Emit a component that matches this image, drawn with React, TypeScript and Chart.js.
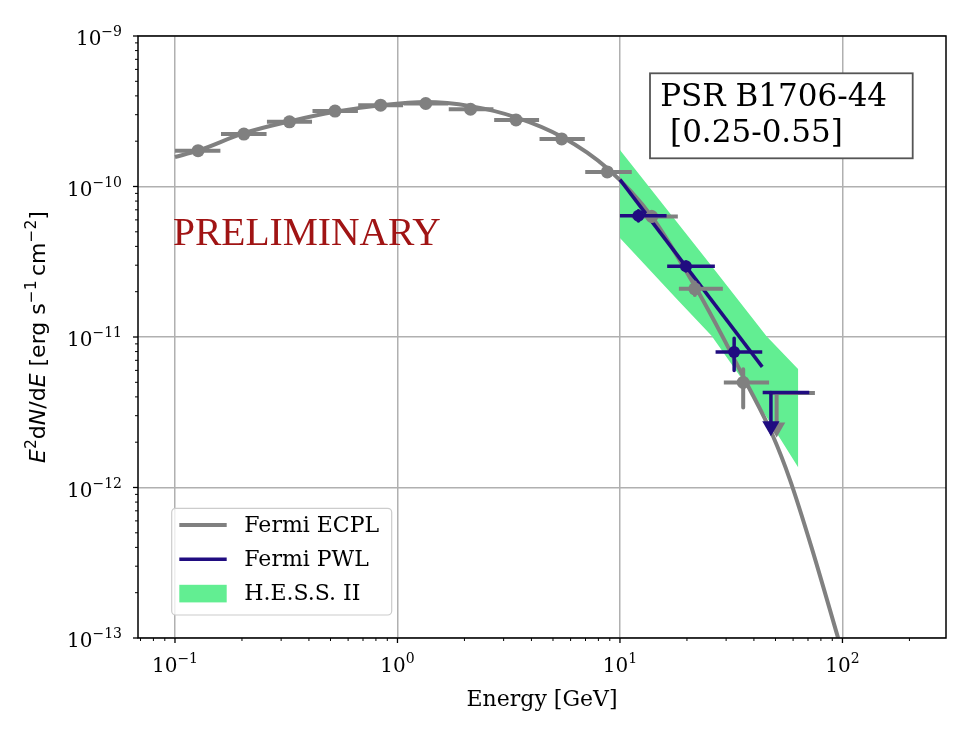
import React, { useEffect, useRef } from "react";
import { Chart, registerables } from "chart.js";

Chart.register(...registerables);

// ---------- axis ranges ----------
const X_MIN = 0.0682;
const X_MAX = 292;
const Y_MIN = 1e-13;
const Y_MAX = 1e-9;

// ---------- Fermi ECPL model curve ----------
const ecplE = [0.1, 0.127, 0.204, 0.327, 0.524, 0.84, 1.34, 2.13, 3.41, 5.47, 8.77, 13.9, 21.9, 28.1, 36.5, 48.7, 58.1, 72.9, 95.7];
const ecplFlux = [1.57e-10, 1.73e-10, 2.26e-10, 2.71e-10, 3.14e-10, 3.46e-10, 3.64e-10, 3.42e-10, 2.88e-10, 2.14e-10, 1.32e-10, 6.3e-11, 2.13e-11, 1.09e-11, 5.16e-12, 2.2e-12, 1.125e-12, 3.93e-13, 9.95e-14];

// ---------- Fermi PWL model line ----------
const pwlE = [10, 43.6];
const pwlFlux = [1.11e-10, 6.33e-12];

// ---------- H.E.S.S. II butterfly edges ----------
const hessUpperE = [10, 25.4, 45.6, 63.3];
const hessUpperFlux = [1.75e-10, 3.06e-11, 1.01e-11, 6.1e-12];
const hessLowerE = [10, 18.0, 25.8, 35.8, 47.2, 63.3];
const hessLowerFlux = [4.55e-11, 1.79e-11, 1.02e-11, 5.12e-12, 2.71e-12, 1.36e-12];

// ---------- Fermi ECPL binned points (grey) ----------
const ecplPtE = [0.127, 0.204, 0.327, 0.524, 0.84, 1.34, 2.13, 3.41, 5.47, 8.77, 13.9, 21.7, 35.8];
const ecplPtFlux = [1.73e-10, 2.23e-10, 2.69e-10, 3.17e-10, 3.47e-10, 3.56e-10, 3.26e-10, 2.77e-10, 2.07e-10, 1.25e-10, 6.32e-11, 2.09e-11, 4.99e-12];
const ecplPtELo = [0.1, 0.161, 0.259, 0.415, 0.666, 1.07, 1.7, 2.72, 4.35, 6.98, 11.3, 18.4, 29.3];
const ecplPtEHi = [0.16, 0.258, 0.413, 0.664, 1.06, 1.69, 2.7, 4.33, 6.95, 11.3, 18.2, 29.0, 46.8];
const ecplPtFluxLo = [1.68e-10, 2.17e-10, 2.62e-10, 3.09e-10, 3.39e-10, 3.48e-10, 3.17e-10, 2.69e-10, 1.99e-10, 1.19e-10, 5.9e-11, 1.9e-11, 3.4e-12];
const ecplPtFluxHi = [1.78e-10, 2.29e-10, 2.76e-10, 3.25e-10, 3.55e-10, 3.64e-10, 3.35e-10, 2.85e-10, 2.15e-10, 1.31e-10, 6.8e-11, 2.3e-11, 6.1e-12];
const ecplUlE = [50.6];
const ecplUlFlux = [4.24e-12];
const ecplUlELo = [46.8];
const ecplUlEHi = [75.2];
const ecplUlArrow = [2.5e-12];

// ---------- Fermi PWL binned points (dark blue) ----------
const pwlPtE = [12.1, 19.8, 32.6];
const pwlPtFlux = [6.4e-11, 2.95e-11, 7.96e-12];
const pwlPtELo = [10.0, 16.3, 26.9];
const pwlPtEHi = [16.2, 26.7, 43.6];
const pwlPtFluxLo = [5.9e-11, 2.75e-11, 6.0e-12];
const pwlPtFluxHi = [6.9e-11, 3.15e-11, 9.8e-12];
const pwlUlE = [47.7];
const pwlUlFlux = [4.28e-12];
const pwlUlELo = [43.8];
const pwlUlEHi = [70.9];
const pwlUlArrow = [2.55e-12];

// ---------- annotations ----------
const prelimE = 0.1;
const prelimFlux = 4.1e-11;
const sourceLines = ["PSR B1706-44", " [0.25-0.55]"];
const xAxisTitle = "Energy [GeV]";

// ---------- colours / fonts ----------
const GREY = "#808080";
const BLUE = "#200c80";
const GREEN = "#62ee92";
const RED = "#a01414";
const SERIF = "'DejaVu Serif', serif";
const SANS = "'DejaVu Sans', sans-serif";

// ---------- helpers ----------
const pts = (xs: number[], ys: number[]) => xs.map((x, i) => ({ x, y: ys[i] }));
const hSegs = (lo: number[], hi: number[], ys: number[]) => {
  const out: any[] = [];
  lo.forEach((l, i) => {
    out.push({ x: l, y: ys[i] }, { x: hi[i], y: ys[i] }, { x: hi[i], y: null });
  });
  return out;
};
const vSegs = (xs: number[], lo: number[], hi: number[]) => {
  const out: any[] = [];
  xs.forEach((x, i) => {
    out.push({ x, y: hi[i] }, { x, y: lo[i] }, { x, y: null });
  });
  return out;
};
const isDecade = (v: number) => Math.abs(Math.log10(v) - Math.round(Math.log10(v))) < 1e-6;
const expOf = (v: number) => String(Math.round(Math.log10(v))).replace("-", "\u2212");
function logTicks(min: number, max: number) {
  const out: { value: number }[] = [];
  const e0 = Math.floor(Math.log10(min));
  const e1 = Math.ceil(Math.log10(max));
  for (let e = e0; e <= e1; e++) {
    for (let m = 1; m <= 9; m++) {
      const v = parseFloat((m * Math.pow(10, e)).toPrecision(12));
      if (v >= min * (1 - 1e-9) && v <= max * (1 + 1e-9)) out.push({ value: v });
    }
  }
  return out;
}

type Run = { t: string; font: string; dy: number };
function runsWidth(ctx: CanvasRenderingContext2D, runs: Run[]) {
  let w = 0;
  for (const r of runs) {
    ctx.font = r.font;
    w += ctx.measureText(r.t).width;
  }
  return w;
}
function drawRuns(ctx: CanvasRenderingContext2D, runs: Run[], x: number, y: number) {
  let cx = x;
  for (const r of runs) {
    ctx.font = r.font;
    ctx.fillText(r.t, cx, y + r.dy);
    cx += ctx.measureText(r.t).width;
  }
}
const powRuns = (v: number): Run[] => [
  { t: "10", font: `20px ${SERIF}`, dy: 0 },
  { t: expOf(v), font: `14px ${SERIF}`, dy: -9 },
];

// ---------- plugins ----------
const axisDecor = {
  id: "axisDecor",
  afterDatasetsDraw(chart: any) {
    const { ctx, chartArea: ca, scales } = chart;
    const xs = scales.x;
    const ys = scales.y;
    ctx.save();
    ctx.strokeStyle = "#000";
    ctx.lineCap = "butt";
    for (const t of xs.ticks) {
      const px = xs.getPixelForValue(t.value);
      const maj = isDecade(t.value);
      ctx.lineWidth = maj ? 1.3 : 1;
      ctx.beginPath();
      ctx.moveTo(px, ca.bottom);
      ctx.lineTo(px, ca.bottom + (maj ? 5 : 3));
      ctx.stroke();
    }
    for (const t of ys.ticks) {
      const py = ys.getPixelForValue(t.value);
      const maj = isDecade(t.value);
      ctx.lineWidth = maj ? 1.3 : 1;
      ctx.beginPath();
      ctx.moveTo(ca.left, py);
      ctx.lineTo(ca.left - (maj ? 5 : 3), py);
      ctx.stroke();
    }
    ctx.lineWidth = 1.5;
    ctx.strokeRect(ca.left, ca.top, ca.right - ca.left, ca.bottom - ca.top);

    // tick labels (10^n with real superscripts)
    ctx.fillStyle = "#000";
    ctx.textAlign = "left";
    ctx.textBaseline = "alphabetic";
    for (const t of xs.ticks) {
      if (!isDecade(t.value)) continue;
      const runs = powRuns(t.value);
      const w = runsWidth(ctx, runs);
      drawRuns(ctx, runs, xs.getPixelForValue(t.value) - w / 2, ca.bottom + 34);
    }
    for (const t of ys.ticks) {
      if (!isDecade(t.value)) continue;
      const runs = powRuns(t.value);
      const w = runsWidth(ctx, runs);
      drawRuns(ctx, runs, ca.left - 16 - w, ys.getPixelForValue(t.value) + 9);
    }
    ctx.restore();
  },
};

const annotations = {
  id: "annotations",
  afterDatasetsDraw(chart: any) {
    const { ctx, chartArea: ca, scales } = chart;
    ctx.save();
    // PRELIMINARY
    ctx.fillStyle = RED;
    ctx.font = "39.5px 'Liberation Serif', serif";
    ctx.textAlign = "left";
    ctx.textBaseline = "alphabetic";
    ctx.fillText("PRELIMINARY", scales.x.getPixelForValue(prelimE) - 2, scales.y.getPixelForValue(prelimFlux));

    // source box
    const bw = 262.7;
    const bh = 85;
    const bx = ca.right - 33.3 - bw;
    const by = ca.top + 37.3;
    ctx.fillStyle = "#fff";
    ctx.fillRect(bx, by, bw, bh);
    ctx.strokeStyle = "#555";
    ctx.lineWidth = 1.8;
    ctx.strokeRect(bx, by, bw, bh);
    ctx.fillStyle = "#000";
    ctx.font = `31px ${SERIF}`;
    ctx.fillText(sourceLines[0], bx + 10.2, by + 32.6);
    ctx.fillText(sourceLines[1], bx + 10.2, by + 68.6);

    // legend
    const lx = ca.left + 33.7;
    const lw = 220;
    const lh = 106.7;
    const ly = ca.bottom - 23 - lh;
    ctx.beginPath();
    const r = 4;
    ctx.moveTo(lx + r, ly);
    ctx.arcTo(lx + lw, ly, lx + lw, ly + lh, r);
    ctx.arcTo(lx + lw, ly + lh, lx, ly + lh, r);
    ctx.arcTo(lx, ly + lh, lx, ly, r);
    ctx.arcTo(lx, ly, lx + lw, ly, r);
    ctx.closePath();
    ctx.fillStyle = "rgba(255,255,255,0.8)";
    ctx.fill();
    ctx.strokeStyle = "#cccccc";
    ctx.lineWidth = 1.2;
    ctx.stroke();
    const items = chart.data.datasets
      .filter((d: any) => d.legendKind)
      .sort((a: any, b: any) => a.legendOrder - b.legendOrder);
    items.forEach((d: any, i: number) => {
      const cy = ly + 16.7 + i * 34.3;
      const hx0 = lx + 7.6;
      const hx1 = lx + 55;
      if (d.legendKind === "line") {
        ctx.strokeStyle = d.borderColor;
        ctx.lineWidth = d.borderWidth;
        ctx.beginPath();
        ctx.moveTo(hx0, cy);
        ctx.lineTo(hx1, cy);
        ctx.stroke();
      } else {
        ctx.fillStyle = d.backgroundColor;
        ctx.fillRect(hx0, cy - 8.8, hx1 - hx0, 17.6);
      }
      ctx.fillStyle = "#000";
      ctx.font = `22px ${SERIF}`;
      ctx.textBaseline = "middle";
      ctx.fillText(d.label, lx + 72.6, cy + 1);
    });
    ctx.restore();
  },
};

const axisTitles = {
  id: "axisTitles",
  afterDraw(chart: any) {
    const { ctx, chartArea: ca } = chart;
    ctx.save();
    ctx.fillStyle = "#000";
    ctx.textAlign = "left";
    ctx.textBaseline = "alphabetic";

    // x title
    ctx.font = `22px ${SERIF}`;
    const xw = ctx.measureText(xAxisTitle).width;
    ctx.fillText(xAxisTitle, (ca.left + ca.right) / 2 - xw / 2, 706);

    // y title, mathtext-like
    const n = `22px ${SANS}`;
    const it = `italic 22px ${SANS}`;
    const sp = `15.5px ${SANS}`;
    const runs: Run[] = [
      { t: "E", font: it, dy: 0 },
      { t: "2", font: sp, dy: -9 },
      { t: "d", font: n, dy: 0 },
      { t: "N", font: it, dy: 0 },
      { t: "/d", font: n, dy: 0 },
      { t: "E", font: it, dy: 0 },
      { t: " [erg s", font: n, dy: 0 },
      { t: "\u22121", font: sp, dy: -9 },
      { t: "\u2009cm", font: n, dy: 0 },
      { t: "\u22122", font: sp, dy: -9 },
      { t: "]", font: n, dy: 0 },
    ];
    const total = runsWidth(ctx, runs);
    ctx.translate(45, (ca.top + ca.bottom) / 2);
    ctx.rotate(-Math.PI / 2);
    drawRuns(ctx, runs, -total / 2, 0);
    ctx.restore();
  },
};

export default function App() {
  const ref = useRef<HTMLCanvasElement | null>(null);

  useEffect(() => {
    document.body.style.margin = "0";
    const canvas = ref.current;
    if (!canvas) return;

    const gridColor = (c: any) => (c.tick && isDecade(c.tick.value) ? "#b0b0b0" : "rgba(0,0,0,0)");

    const chart = new Chart(canvas, {
      type: "line",
      data: {
        datasets: [
          {
            label: "H.E.S.S. II upper",
            data: pts(hessUpperE, hessUpperFlux),
            borderColor: "rgba(0,0,0,0)",
            borderWidth: 0,
            pointRadius: 0,
            fill: false,
            order: 20,
          },
          {
            label: "H.E.S.S. II",
            data: pts(hessLowerE, hessLowerFlux),
            borderColor: "rgba(0,0,0,0)",
            backgroundColor: GREEN,
            borderWidth: 0,
            pointRadius: 0,
            fill: { target: 0 },
            order: 19,
            legendKind: "patch",
            legendOrder: 3,
          },
          {
            label: "Fermi ECPL",
            data: pts(ecplE, ecplFlux),
            borderColor: GREY,
            borderWidth: 4,
            pointRadius: 0,
            cubicInterpolationMode: "monotone",
            order: 15,
            legendKind: "line",
            legendOrder: 1,
          },
          {
            label: "Fermi PWL",
            data: pts(pwlE, pwlFlux),
            borderColor: BLUE,
            borderWidth: 3.5,
            pointRadius: 0,
            order: 14,
            legendKind: "line",
            legendOrder: 2,
          },
          // grey error bars
          {
            label: "ecpl xerr",
            data: hSegs(ecplPtELo, ecplPtEHi, ecplPtFlux),
            borderColor: GREY,
            borderWidth: 4,
            pointRadius: 0,
            order: 12,
          },
          {
            label: "ecpl yerr",
            data: vSegs(ecplPtE, ecplPtFluxLo, ecplPtFluxHi),
            borderColor: GREY,
            borderWidth: 4,
            pointRadius: 0,
            order: 12,
          },
          {
            label: "ecpl ul bar",
            data: hSegs(ecplUlELo, ecplUlEHi, ecplUlFlux),
            borderColor: GREY,
            borderWidth: 4,
            pointRadius: 0,
            order: 12,
          },
          {
            label: "ecpl ul stem",
            data: vSegs(ecplUlE, ecplUlArrow, ecplUlFlux),
            borderColor: GREY,
            borderWidth: 4,
            pointRadius: 0,
            order: 12,
          },
          {
            label: "ecpl ul head",
            data: pts(ecplUlE, ecplUlArrow),
            showLine: false,
            pointStyle: "triangle",
            pointRotation: 180,
            pointRadius: 10,
            pointBorderWidth: 0,
            pointBackgroundColor: GREY,
            order: 12,
          },
          {
            label: "ecpl points",
            data: pts(ecplPtE, ecplPtFlux),
            showLine: false,
            pointRadius: 6.5,
            pointBorderWidth: 0,
            pointBackgroundColor: GREY,
            order: 11,
          },
          // blue error bars
          {
            label: "pwl xerr",
            data: hSegs(pwlPtELo, pwlPtEHi, pwlPtFlux),
            borderColor: BLUE,
            borderWidth: 3.5,
            pointRadius: 0,
            order: 9,
          },
          {
            label: "pwl yerr",
            data: vSegs(pwlPtE, pwlPtFluxLo, pwlPtFluxHi),
            borderColor: BLUE,
            borderWidth: 3.5,
            pointRadius: 0,
            order: 9,
          },
          {
            label: "pwl ul bar",
            data: hSegs(pwlUlELo, pwlUlEHi, pwlUlFlux),
            borderColor: BLUE,
            borderWidth: 3.5,
            pointRadius: 0,
            order: 9,
          },
          {
            label: "pwl ul stem",
            data: vSegs(pwlUlE, pwlUlArrow, pwlUlFlux),
            borderColor: BLUE,
            borderWidth: 3.5,
            pointRadius: 0,
            order: 9,
          },
          {
            label: "pwl ul head",
            data: pts(pwlUlE, pwlUlArrow),
            showLine: false,
            pointStyle: "triangle",
            pointRotation: 180,
            pointRadius: 10,
            pointBorderWidth: 0,
            pointBackgroundColor: BLUE,
            order: 9,
          },
          {
            label: "pwl points",
            data: pts(pwlPtE, pwlPtFlux),
            showLine: false,
            pointRadius: 6,
            pointBorderWidth: 0,
            pointBackgroundColor: BLUE,
            order: 8,
          },
        ] as any,
      },
      options: {
        animation: false,
        responsive: false,
        devicePixelRatio: 1,
        events: [],
        spanGaps: false,
        layout: { padding: { top: 36, right: 26, left: 0, bottom: 0 } },
        elements: { line: { borderCapStyle: "butt", borderJoinStyle: "round" } },
        plugins: {
          legend: { display: false },
          tooltip: { enabled: false },
        },
        scales: {
          x: {
            type: "logarithmic",
            min: X_MIN,
            max: X_MAX,
            bounds: "data",
            afterBuildTicks: (s: any) => {
              s.ticks = logTicks(s.min, s.max);
            },
            afterFit: (s: any) => {
              s.height = 100;
            },
            grid: { color: gridColor, lineWidth: 1.5, drawTicks: false },
            border: { display: false },
            ticks: { display: false, autoSkip: false },
          },
          y: {
            type: "logarithmic",
            min: Y_MIN,
            max: Y_MAX,
            bounds: "data",
            afterBuildTicks: (s: any) => {
              s.ticks = logTicks(s.min, s.max);
            },
            afterFit: (s: any) => {
              s.width = 138;
            },
            grid: { color: gridColor, lineWidth: 1.5, drawTicks: false },
            border: { display: false },
            ticks: { display: false, autoSkip: false },
          },
        },
      } as any,
      plugins: [axisDecor, annotations, axisTitles],
    });

    return () => {
      chart.destroy();
    };
  }, []);

  return (
    <div style={{ width: 972, height: 738 }}>
      <canvas ref={ref} width={972} height={738} style={{ display: "block" }} />
    </div>
  );
}
